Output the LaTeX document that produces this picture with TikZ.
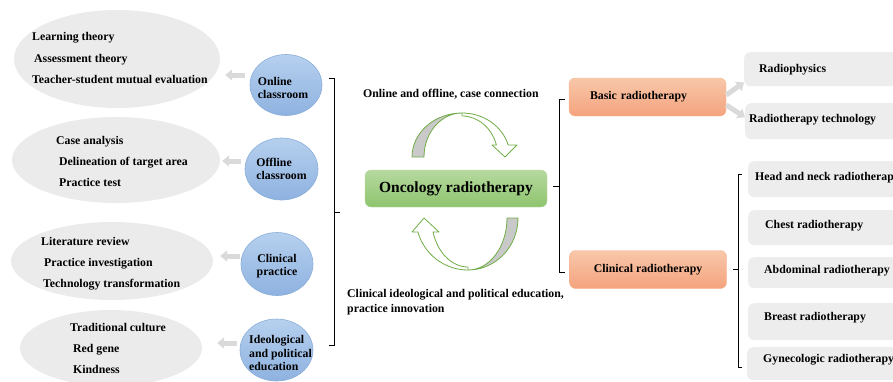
\documentclass[tikz,border=0pt]{standalone}
\usepackage{fontspec}
\setmainfont{Liberation Serif}
\usetikzlibrary{calc,shapes.geometric,arrows.meta}
\definecolor{ellgray}{HTML}{EBEBEB}
\definecolor{boxgray}{HTML}{EDEDED}
\definecolor{arrgray}{HTML}{DADADA}
\definecolor{bubtop}{HTML}{B6D0EE}
\definecolor{bubbot}{HTML}{8EB2E0}
\definecolor{bubline}{HTML}{8AAED9}
\definecolor{grntop}{HTML}{B5D99F}
\definecolor{grnbot}{HTML}{8FC46F}
\definecolor{grnline}{HTML}{70AD47}
\definecolor{orgtop}{HTML}{F8C7AA}
\definecolor{orgbot}{HTML}{F4A37D}
\definecolor{orgline}{HTML}{F6B895}
\definecolor{bandgray}{HTML}{C9C9C9}

\begin{document}
\begin{tikzpicture}[x=1pt,y=-1pt,
    every node/.style={font=\bfseries\fontsize{11.8}{13.5}\selectfont},
    blob/.style={ellipse,fill=ellgray,inner sep=0pt},
    bubble/.style={ellipse,draw=bubline,line width=0.6pt,top color=bubtop,bottom color=bubbot,inner sep=0pt},
    bubtext/.style={inner sep=0pt,align=left},
    item/.style={anchor=mid west,inner sep=0pt,yshift=-2pt},
    onco/.style={rounded corners=6pt,top color=grntop,bottom color=grnbot,draw=grntop,
        minimum width=182pt,minimum height=37pt,font=\bfseries\fontsize{15.5}{18}\selectfont},
    orbox/.style={rounded corners=6pt,top color=orgtop,bottom color=orgbot,draw=orgline,
        minimum width=157pt,minimum height=38pt},
    greybox/.style={rounded corners=6pt,fill=boxgray,minimum width=170pt,inner sep=0pt},
    garrow/.style={draw=arrgray,line width=5pt,-{Triangle[width=11pt,length=7pt]}},
    bracket/.style={draw=black,line width=0.7pt},
    band/.style={fill=bandgray,draw=grnline,line width=0.8pt,line join=round},
    wband/.style={fill=white,draw=grnline,line width=0.8pt,line join=round}]
    \useasboundingbox (0,0) rectangle (893,381);
    \clip (0,0) rectangle (893,381);

    % left: contents
    \node[blob,minimum width=206pt,minimum height=98pt] (e1) at (117,59) {};
    \node[blob,minimum width=208pt,minimum height=86pt] (e2) at (116,160) {};
    \node[blob,minimum width=202pt,minimum height=78pt] (e3) at (112,261) {};
    \node[blob,minimum width=182pt,minimum height=76pt] (e4) at (111,348) {};
    \foreach \nm/\xx/\yy/\txt in {l1/32/36/Learning theory, l2/34/58/Assessment theory,
        l3/32/79/Teacher-student mutual evaluation, l4/56/140/Case analysis,
        l5/59/161/Delineation of target area, l6/59/182/Practice test,
        l7/41/241/Literature review, l8/44/262/Practice investigation,
        l9/43/283/Technology transformation, l10/70/327/Traditional culture,
        l11/73/348/Red gene, l12/73/369/Kindness}
        \node[item] (\nm) at (\xx,\yy) {\txt};

    % left: teaching parts
    \node[bubble,minimum width=72pt,minimum height=61pt] (c1) at (286,85) {};
    \node[bubble,minimum width=73pt,minimum height=62pt] (c2) at (281.5,169) {};
    \node[bubble,minimum width=72pt,minimum height=63pt] (c3) at (277,264) {};
    \node[bubble,minimum width=73pt,minimum height=62pt] (c4) at (276.5,350) {};
    \node[bubtext] (c1t) at ($(c1)+(-3,3)$) {Online\\classroom};
    \node[bubtext] (c2t) at (c2) {Offline\\classroom};
    \node[bubtext,align=center] (c3t) at ($(c3)+(0,2)$) {Clinical\\practice};
    \node[bubtext] (c4t) at ($(c4)+(4,3)$) {Ideological\\and political\\education};

    \draw[garrow] ($(c1.west)+(-5,-10)$) -- ($(e1.east)+(5,16)$);
    \draw[garrow] ($(c2.west)+(-4,-8)$) -- ($(e2.east)+(2,1)$);
    \draw[garrow] ($(c3.west)+(-1,-8)$) -- ($(e3.east)+(7,-5)$);
    \draw[garrow] ($(c4.west)+(-3,-7)$) -- ($(e4.east)+(15,-5)$);

    \draw[bracket] (329,78) -- (334,78) -- (334,345) -- (329,345);
    \draw[bracket] (334,212) -- (340,212);

    % middle
    \node[item] (topnote) at (363,93) {Online and offline, case connection};
    \node[onco] (onco) at (456,188.5) {Oncology radiotherapy};
    \node[item,align=left,font=\bfseries\fontsize{11.8}{15}\selectfont] (botnote) at (347,308)
        {Clinical ideological and political education,\\practice innovation};

    \filldraw[band] (412,157) arc[start angle=180,end angle=270,x radius=50,y radius=44]
        arc[start angle=270,end angle=180,x radius=38,y radius=44] -- cycle;
    \filldraw[wband] (462,113) arc[start angle=270,end angle=344.2,x radius=48,y radius=44]
        -- (517,145) -- (505,157) -- (492,145) -- (496.4,145)
        arc[start angle=343,end angle=270,x radius=36,y radius=41] -- cycle;

    \filldraw[band] (518,218) arc[start angle=0,end angle=90,x radius=50,y radius=52]
        arc[start angle=90,end angle=0,x radius=39,y radius=52] -- cycle;
    \filldraw[wband] (468,270) arc[start angle=90,end angle=164.4,x radius=52,y radius=52]
        -- (412,232) -- (424,218) -- (439,232) -- (433,232)
        arc[start angle=163.4,end angle=90,x radius=36.5,y radius=49] -- cycle;

    % right
    \draw[bracket] (565,99) -- (559,99) -- (559,272) -- (565,272);
    \draw[bracket] (553,186) -- (559,186);
    \node[orbox,text width=115pt,inner xsep=21pt,align=left] (basic) at (647.5,97) {Basic radiotherapy};
    \node[orbox] (clin) at (648,269.5) {Clinical radiotherapy};

    \draw[bracket] (742,174) -- (738,174) -- (738,367) -- (742,367);
    \draw[bracket] (733,269) -- (738,269);

    \foreach \nm/\xl/\yt/\hh/\xt/\yy/\txt in {r1/744/52/34/759/68/Radiophysics,
        r2/745/103/36/749/118/Radiotherapy technology,
        r3/748/161/36/755/176/Head and neck radiotherapy,
        r4/748/210/35/765/224/Chest radiotherapy,
        r5/748/257/31/764/269/Abdominal radiotherapy,
        r6/748/303/37/764/316/Breast radiotherapy,
        r7/747/347/33/763/358/Gynecologic radiotherapy}
    {
        \node[greybox,minimum height=\hh pt,anchor=north west] (\nm) at (\xl,\yt) {};
        \node[item] (\nm-t) at (\xt,\yy) {\txt};
    }

    \draw[garrow] ([yshift=2pt]basic.east) -- ([yshift=4pt]r1.south west);
    \draw[garrow] ([yshift=-8pt]basic.east) -- ([yshift=4pt]r2.west);

\end{tikzpicture}
\end{document}
